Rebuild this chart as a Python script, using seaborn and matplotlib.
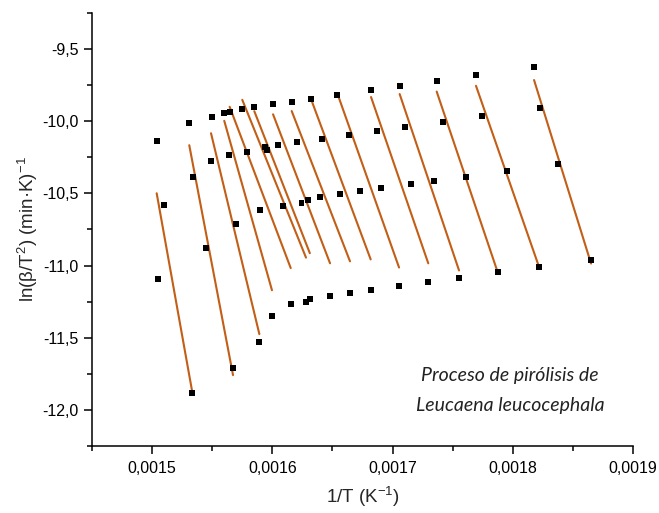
import numpy as np
import pandas as pd
import matplotlib
matplotlib.use("Agg")
import matplotlib.pyplot as plt
from matplotlib.ticker import FuncFormatter, MultipleLocator
import seaborn as sns

# 1/T (K^-1) for the 4 heating rates, one entry per conversion level (16 levels)
x_r1 = [0.0015038, 0.0015309, 0.0015501, 0.0015600, 0.0015645, 0.0015750, 0.0015850, 0.0016006,
        0.0016161, 0.0016322, 0.0016540, 0.0016821, 0.0017059, 0.0017367, 0.0017694, 0.0018177]
x_r2 = [0.0015096, 0.0015338, 0.0015490, 0.0015637, 0.0015787, 0.0015939, 0.0015953, 0.0016045,
        0.0016203, 0.0016416, 0.0016638, 0.0016868, 0.0017106, 0.0017417, 0.0017742, 0.0018224]
x_r3 = [0.0015051, 0.0015448, 0.0015698, 0.0015895, 0.0016089, 0.0016243, 0.0016298, 0.0016399,
        0.0016560, 0.0016729, 0.0016904, 0.0017153, 0.0017345, 0.0017608, 0.0017952, 0.0018379]
x_r4 = [0.0015332, 0.0015673, 0.0015892, 0.0015997, 0.0016153, 0.0016280, 0.0016312, 0.0016480,
        0.0016646, 0.0016818, 0.0017054, 0.0017297, 0.0017553, 0.0017877, 0.0018216, 0.0018651]

# ln(beta/T^2)
y_r1 = [-10.137, -10.015, -9.971, -9.945, -9.934, -9.913, -9.902, -9.883,
        -9.865, -9.844, -9.816, -9.784, -9.756, -9.720, -9.682, -9.627]
y_r2 = [-10.582, -10.386, -10.274, -10.236, -10.215, -10.179, -10.199, -10.165,
        -10.144, -10.121, -10.093, -10.066, -10.038, -10.003, -9.964, -9.911]
y_r3 = [-11.095, -10.880, -10.710, -10.613, -10.589, -10.564, -10.546, -10.525,
        -10.506, -10.485, -10.465, -10.437, -10.414, -10.384, -10.345, -10.298]
y_r4 = [-11.880, -11.711, -11.527, -11.349, -11.268, -11.250, -11.231, -11.208,
        -11.190, -11.169, -11.141, -11.111, -11.084, -11.046, -11.008, -10.961]

x_ticks = [0.0015, 0.0016, 0.0017, 0.0018, 0.0019]
y_ticks = [-12.0, -11.5, -11.0, -10.5, -10.0, -9.5]

xs = np.array([x_r1, x_r2, x_r3, x_r4])
ys = np.array([y_r1, y_r2, y_r3, y_r4])

pts = pd.DataFrame({"x": xs.ravel(), "y": ys.ravel(),
                    "grupo": np.tile(np.arange(xs.shape[1]), xs.shape[0])})

# linear fit per conversion level, drawn between the extreme points of the group
fit_rows = []
for g, d in pts.groupby("grupo"):
    m, b = np.polyfit(d["x"], d["y"], 1)
    for xv in (d["x"].min(), d["x"].max()):
        fit_rows.append({"x": xv, "y": m * xv + b, "grupo": g})
fits = pd.DataFrame(fit_rows)

sns.set_style("ticks")
plt.rcParams["font.family"] = ["Liberation Sans", "DejaVu Sans"]
plt.rcParams["mathtext.default"] = "regular"

fig = plt.figure(figsize=(6.59, 5.13), dpi=100)
ax = fig.add_axes([92 / 659, 67 / 513, 541 / 659, 433 / 513])

sns.scatterplot(data=pts, x="x", y="y", marker="s", s=18, color="black",
                edgecolor="none", ax=ax, zorder=3)
sns.lineplot(data=fits, x="x", y="y", units="grupo", estimator=None,
             color="#C25E16", linewidth=1.5, ax=ax, zorder=2)

ax.set_xlim(0.00145, 0.0019)
ax.set_ylim(-12.25, -9.25)
ax.set_xticks(x_ticks)
ax.set_yticks(y_ticks)
ax.xaxis.set_minor_locator(MultipleLocator(0.00005))
ax.yaxis.set_minor_locator(MultipleLocator(0.25))
ax.xaxis.set_major_formatter(FuncFormatter(lambda v, _: f"{v:.4f}".replace(".", ",")))
ax.yaxis.set_major_formatter(FuncFormatter(lambda v, _: f"{v:.1f}".replace(".", ",")))
ax.tick_params(which="major", length=6, width=1.1, labelsize=11.5, colors="black")
ax.tick_params(axis="y", which="major", pad=3.5)
ax.tick_params(axis="x", which="major", pad=5)
ax.tick_params(which="minor", length=3.5, width=1.1, colors="black")

for s in ("top", "right"):
    ax.spines[s].set_visible(False)
for s in ("left", "bottom"):
    ax.spines[s].set_linewidth(1.1)
    ax.spines[s].set_color("black")

ax.set_xlabel("1/T (K$^{-1}$)", fontsize=13.5, labelpad=6)
ax.set_ylabel("ln(β/T$^{2}$) (min·K)$^{-1}$", fontsize=13.5, labelpad=2)

ax.text(0.0017977, -11.765, "Proceso de pirólisis de", fontsize=14, style="italic",
        family=["Lato", "DejaVu Sans"], ha="center", va="center", color="#222222")
ax.text(0.0017977, -11.972, "Leucaena leucocephala", fontsize=14, style="italic",
        family=["Lato", "DejaVu Sans"], ha="center", va="center", color="#222222")

fig.savefig("out.png", dpi=100)
